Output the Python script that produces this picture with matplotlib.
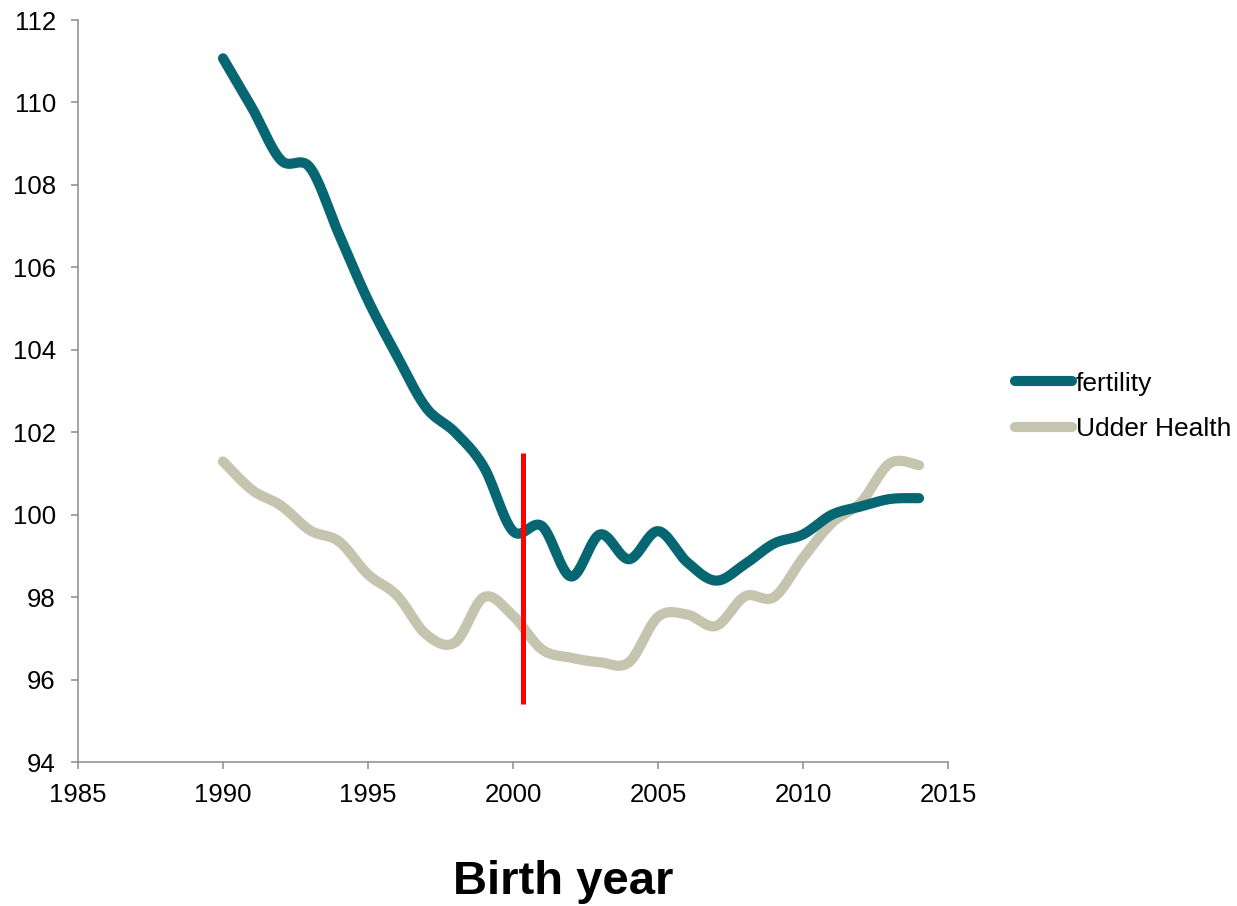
import numpy as np
import matplotlib
matplotlib.use("Agg")
import matplotlib.pyplot as plt

plt.rcParams['font.family'] = ['Liberation Sans', 'DejaVu Sans']

years = list(range(1990, 2015))
fertility = [111.07, 109.87, 108.6, 108.42, 106.8, 105.2, 103.85, 102.6, 102.0, 101.15,
             99.6, 99.72, 98.5, 99.52, 98.92, 99.6, 98.85, 98.4, 98.8, 99.3,
             99.52, 100.0, 100.2, 100.38, 100.4]
udder_health = [101.29, 100.6, 100.22, 99.62, 99.35, 98.55, 98.04, 97.1, 96.9, 98.0,
                97.55, 96.73, 96.53, 96.42, 96.42, 97.52, 97.58, 97.3, 98.02, 98.0,
                98.95, 99.8, 100.3, 101.25, 101.2]
series_labels = ["fertility", "Udder Health"]
marker_year = 2000.34
marker_range = (95.4, 101.5)
x_ticks = list(range(1985, 2016, 5))
y_ticks = list(range(94, 113, 2))
x_label = "Birth year"

TEAL = "#066672"
SAGE = "#C4C4AF"


def smooth(xs, ys, n=30):
    """Catmull-Rom style smoothing via cubic Bezier segments."""
    p = np.column_stack([xs, ys]).astype(float)
    pts = np.vstack([p[0], p, p[-1]])
    out = []
    t = np.linspace(0, 1, n)[:, None]
    for i in range(1, len(pts) - 2):
        p0, p1, p2, p3 = pts[i - 1], pts[i], pts[i + 1], pts[i + 2]
        c1 = p1 + (p2 - p0) / 6.0
        c2 = p2 - (p3 - p1) / 6.0
        seg = ((1 - t) ** 3) * p1 + 3 * ((1 - t) ** 2) * t * c1 + 3 * (1 - t) * t ** 2 * c2 + t ** 3 * p2
        out.append(seg if i == 1 else seg[1:])
    out = np.vstack(out)
    return out[:, 0], out[:, 1]


fig = plt.figure(figsize=(12.37, 9.06), dpi=100)
ax = fig.add_axes([78 / 1237, 1 - 762 / 906, (948 - 78) / 1237, (762 - 20) / 906])

fx, fy = smooth(years, fertility)
ux, uy = smooth(years, udder_health)
ax.plot(fx, fy, color=TEAL, lw=7.3, solid_capstyle='round', label=series_labels[0], zorder=3)
ax.plot(ux, uy, color=SAGE, lw=7.3, solid_capstyle='round', label=series_labels[1], zorder=2)
ax.plot([marker_year, marker_year], marker_range, color="#FF0000", lw=3.6,
        solid_capstyle='butt', zorder=4)

ax.set_xlim(1985, 2015)
ax.set_ylim(94, 112)
ax.set_xticks(x_ticks)
ax.set_yticks(y_ticks)
for s in ("top", "right"):
    ax.spines[s].set_visible(False)
for s in ("left", "bottom"):
    ax.spines[s].set_color("#8C8C8C")
    ax.spines[s].set_linewidth(1.1)
ax.tick_params(direction="out", length=5, width=1.1, color="#8C8C8C",
               labelsize=18.5, labelcolor="black")
ax.tick_params(axis="x", pad=10)
ax.tick_params(axis="y", pad=11)

leg = ax.legend(loc="center left", bbox_to_anchor=(1015 / 1237, 1 - 406.5 / 906),
                bbox_transform=fig.transFigure, frameon=False, fontsize=19,
                handlelength=2.15, handletextpad=0.15, labelspacing=0.82,
                borderpad=0, borderaxespad=0)
for h in leg.get_lines():
    h.set_solid_capstyle('round')

fig.text(563 / 1237, 1 - 882 / 906, x_label, ha="center", va="center",
         fontsize=34, fontweight="bold")

fig.savefig("out.png", dpi=100)
